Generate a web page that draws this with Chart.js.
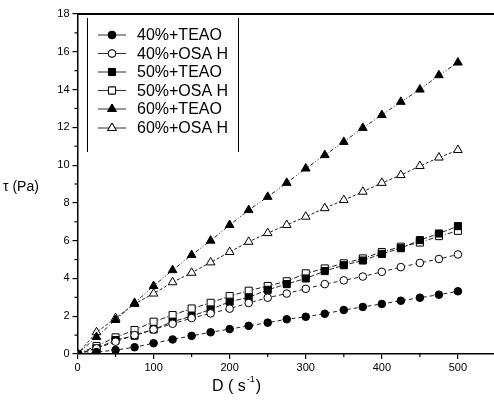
<!DOCTYPE html>
<html><head><meta charset="utf-8">
<script src="https://cdn.jsdelivr.net/npm/chart.js@4"></script>
<style>html,body{margin:0;padding:0;overflow:hidden;background:#fff;width:494px;height:400px}#wrap{width:540px;height:400px;position:relative}</style>
</head><body><div id="wrap"><canvas id="c" width="540" height="400"></canvas></div>
<script>
const shearRate = [0,25,50,75,100,125,150,175,200,225,250,275,300,325,350,375,400,425,450,475,500];
const teao40 = [0,0.1,0.21,0.36,0.57,0.77,0.96,1.15,1.32,1.49,1.66,1.84,1.97,2.13,2.33,2.49,2.65,2.82,2.98,3.14,3.32];
const osa40  = [0,0.3,0.65,1.0,1.3,1.6,1.9,2.15,2.4,2.7,2.98,3.2,3.45,3.7,3.9,4.1,4.35,4.6,4.82,5.03,5.27];
const teao50 = [0,0.3,0.74,0.97,1.3,1.71,2.01,2.36,2.77,3.0,3.4,3.7,4.0,4.39,4.7,4.95,5.3,5.6,6.03,6.38,6.77];
const osa50  = [0,0.42,0.88,1.27,1.71,2.06,2.41,2.71,3.07,3.35,3.6,3.85,4.27,4.53,4.8,5.06,5.4,5.68,5.9,6.24,6.52];
const teao60 = [0,0.9,1.8,2.7,3.6,4.44,5.24,6.0,6.83,7.62,8.32,9.06,9.82,10.53,11.23,11.97,12.65,13.35,14.0,14.76,15.43];
const osa60  = [0,1.15,1.9,2.65,3.2,3.8,4.3,4.85,5.4,5.94,6.4,6.83,7.27,7.72,8.15,8.59,9.06,9.47,9.95,10.4,10.8];
const seriesLabels = ['40%+TEAO','40%+OSA H','50%+TEAO','50%+OSA H','60%+TEAO','60%+OSA H'];
const yTicks = [0,2,4,6,8,10,12,14,16,18];
const xTicks = [0,100,200,300,400,500];

const FONT = '"Liberation Sans", Arial, sans-serif';
function pts(arr){ return arr.map((v,i)=>({x:shearRate[i], y:v})); }
const styles = [
  {data:teao40, style:'circle', fill:'#000', r:3.8, dash:[4,3]},
  {data:osa40,  style:'circle', fill:'#fff', r:3.8, dash:[4,3]},
  {data:teao50, style:'rect',   fill:'#000', r:5,   dash:[5,2]},
  {data:osa50,  style:'rect',   fill:'#fff', r:5,   dash:[5,2,1,2]},
  {data:teao60, style:'triangle', fill:'#000', r:5, dash:[4,2,1,2,1,2]},
  {data:osa60,  style:'triangle', fill:'#fff', r:5, dash:[3,2]}
];
const datasets = styles.map((s,i)=>({
  label: seriesLabels[i], data: pts(s.data), showLine:true,
  borderColor:'#222', borderWidth:1, borderDash:s.dash, tension:0,
  pointStyle:s.style, pointRadius:s.r, pointBackgroundColor:s.fill,
  pointBorderColor:'#000', pointBorderWidth:1
}));

const decor = {
  id:'decor',
  afterDraw(chart){
    const ctx = chart.ctx, ca = chart.chartArea;
    const xs = chart.scales.x, ys = chart.scales.y;
    ctx.save();
    ctx.strokeStyle='#000'; ctx.lineWidth=2;
    ctx.beginPath(); ctx.moveTo(ca.left, ca.top); ctx.lineTo(ca.right, ca.top); ctx.stroke();
    ctx.lineWidth=1.2;
    for (let v=1; v<18; v+=2){ const y=ys.getPixelForValue(v); ctx.beginPath(); ctx.moveTo(ca.left-3,y); ctx.lineTo(ca.left,y); ctx.stroke(); }
    for (let v=50; v<600; v+=100){ const x=xs.getPixelForValue(v); ctx.beginPath(); ctx.moveTo(x,ca.bottom); ctx.lineTo(x,ca.bottom+3); ctx.stroke(); }
    ctx.fillStyle='#000'; ctx.textBaseline='alphabetic'; ctx.textAlign='left';
    ctx.font='14px '+FONT;
    ctx.fillText('\u03c4 (Pa)', 3, 191);
    ctx.font='16px '+FONT;
    let x0 = 212, yb = 391;
    ctx.fillText('D ( s', x0, yb);
    let w = ctx.measureText('D ( s').width;
    ctx.font='9px '+FONT;
    ctx.fillText('-1', x0+w+1, yb-9);
    let w2 = ctx.measureText('-1').width;
    ctx.font='16px '+FONT;
    ctx.fillText(')', x0+w+w2+2, yb);
    ctx.lineWidth=1; ctx.strokeStyle='#000';
    ctx.beginPath(); ctx.moveTo(87.5,18); ctx.lineTo(87.5,152); ctx.moveTo(238.5,18); ctx.lineTo(238.5,152); ctx.stroke();
    const ly = [35,53.5,72,90.5,109,128];
    chart.data.datasets.forEach((ds,i)=>{
      const y = ly[i];
      ctx.strokeStyle='#333'; ctx.lineWidth=1; ctx.setLineDash([]);
      ctx.beginPath(); ctx.moveTo(98,y); ctx.lineTo(126,y); ctx.stroke();
      Chart.helpers.drawPoint(ctx, {pointStyle:ds.pointStyle, radius:ds.pointRadius, borderWidth:1, rotation:0}, 112, y);
      ctx.fillStyle = ds.pointBackgroundColor; ctx.strokeStyle='#000';
      ctx.fill(); ctx.stroke();
      ctx.fillStyle='#000'; ctx.font='16px '+FONT; ctx.textBaseline='middle';
      ctx.fillText(ds.label, 137, y+1);
    });
    ctx.restore();
  }
};

new Chart(document.getElementById('c'), {
  type:'scatter',
  data:{datasets},
  options:{
    responsive:false, animation:false, devicePixelRatio:1,
    layout:{padding:{top:14, right:2, left:0, bottom:0}},
    plugins:{legend:{display:false}, tooltip:{enabled:false}},
    scales:{
      x:{type:'linear', min:0, max:600,
        afterBuildTicks(s){ s.ticks = [0,100,200,300,400,500,600].map(v=>({value:v})); },
        afterFit(s){ s.height = 46; },
        ticks:{color:'#000', font:{family:FONT, size:11}, padding:2, callback:(v)=>xTicks.includes(v)?String(v):''},
        grid:{drawOnChartArea:false, drawTicks:true, tickLength:5, color:'#000', lineWidth:1.2},
        border:{display:true, color:'#000', width:1.5}
      },
      y:{type:'linear', min:0, max:18,
        afterBuildTicks(s){ s.ticks = yTicks.map(v=>({value:v})); },
        afterFit(s){ s.width = 77.5; },
        ticks:{color:'#000', font:{family:FONT, size:11}, padding:3},
        grid:{drawOnChartArea:false, drawTicks:true, tickLength:5, color:'#000', lineWidth:1.2},
        border:{display:true, color:'#000', width:1.5}
      }
    }
  },
  plugins:[decor]
});
</script></body></html>
